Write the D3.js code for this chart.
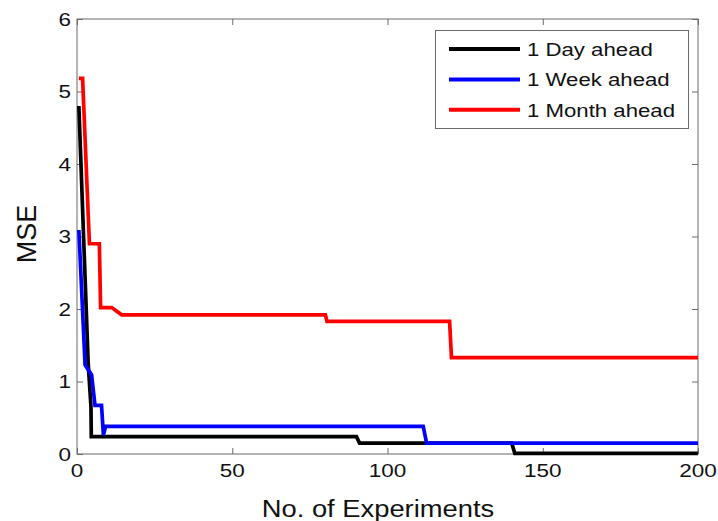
<!DOCTYPE html>
<html>
<head>
<meta charset="utf-8">
<script src="https://cdnjs.cloudflare.com/ajax/libs/d3/7.8.5/d3.min.js"></script>
<style>
  html, body { margin: 0; padding: 0; background: #fff; }
  svg { display: block; }
  text { font-family: "Liberation Sans", Arial, Helvetica, sans-serif; fill: #111; }
</style>
</head>
<body>
<svg id="chart" width="718" height="521"></svg>
<script>
// MSE against number of experiments, for three forecast horizons
const seriesNames = ["1 Day ahead", "1 Week ahead", "1 Month ahead"];
const seriesColors = ["#000000", "#0000ff", "#ff0000"];

const dayX   = [0.6, 3.6, 4.5, 4.6, 90, 91, 140, 141, 200];
const dayY   = [4.8, 1.25, 0.65, 0.24, 0.24, 0.15, 0.15, 0.01, 0.01];

const weekX  = [0.6, 2.6, 4.7, 5.8, 7.9, 8.5, 9.2, 111.5, 112.6, 200];
const weekY  = [3.09, 1.23, 1.09, 0.67, 0.67, 0.26, 0.38, 0.38, 0.15, 0.15];

const monthX = [0.6, 1.8, 4.0, 7.2, 7.6, 11.2, 12.8, 14.4, 80, 80.5, 120, 120.6, 200];
const monthY = [5.18, 5.18, 2.9, 2.9, 2.02, 2.02, 1.97, 1.92, 1.92, 1.83, 1.83, 1.33, 1.33];

const xTicks = [0, 50, 100, 150, 200];
const yTicks = [0, 1, 2, 3, 4, 5, 6];
const xLabel = "No. of Experiments";
const yLabel = "MSE";

const seriesX = [dayX, weekX, monthX];
const seriesY = [dayY, weekY, monthY];

const svg = d3.select("#chart");
const plotL = 77, plotR = 698, plotT = 19, plotB = 454;
const axisColor = "#6b6b6b";

const x = d3.scaleLinear().domain([0, 200]).range([plotL, plotR]);
const y = d3.scaleLinear().domain([0, 6]).range([plotB, plotT]);

// frame
svg.append("rect")
  .attr("x", plotL).attr("y", plotT)
  .attr("width", plotR - plotL).attr("height", plotB - plotT)
  .attr("fill", "none").attr("stroke", axisColor).attr("stroke-width", 1);

// inward ticks on all four sides, labels on bottom and left
const tickLen = 6;
const gBottom = svg.append("g").attr("transform", `translate(0,${plotB})`)
  .call(d3.axisBottom(x).tickValues(xTicks).tickSize(-tickLen).tickFormat(""));
const gTop = svg.append("g").attr("transform", `translate(0,${plotT})`)
  .call(d3.axisTop(x).tickValues(xTicks).tickSize(-tickLen).tickFormat(""));
const gLeft = svg.append("g").attr("transform", `translate(${plotL},0)`)
  .call(d3.axisLeft(y).tickValues(yTicks).tickSize(-tickLen).tickFormat(""));
const gRight = svg.append("g").attr("transform", `translate(${plotR},0)`)
  .call(d3.axisRight(y).tickValues(yTicks).tickSize(-tickLen).tickFormat(""));
[gBottom, gTop, gLeft, gRight].forEach(g => {
  g.select(".domain").remove();
  g.selectAll(".tick line").attr("stroke", axisColor).attr("stroke-width", 1);
});

const tickFont = 18, tickStretch = 1.25;
svg.append("g").selectAll("text").data(xTicks).join("text")
  .attr("transform", d => `translate(${x(d)},${plotB + 23}) scale(${tickStretch},1)`)
  .attr("text-anchor", "middle")
  .style("font-size", tickFont + "px")
  .text(d => d);
svg.append("g").selectAll("text").data(yTicks).join("text")
  .attr("transform", d => `translate(${plotL - 6},${y(d) + 6.5}) scale(${tickStretch},1)`)
  .attr("text-anchor", "end")
  .style("font-size", tickFont + "px")
  .text(d => d);

// axis titles
svg.append("text")
  .attr("transform", `translate(378,517) scale(1.14,1)`)
  .attr("text-anchor", "middle")
  .style("font-size", "24px")
  .text(xLabel);
svg.append("text")
  .attr("transform", `translate(36,234) rotate(-90)`)
  .attr("text-anchor", "middle")
  .style("font-size", "27px")
  .text(yLabel);

// series lines, clipped to the plot box
svg.append("clipPath").attr("id", "plotClip")
  .append("rect").attr("x", plotL).attr("y", plotT - 2)
  .attr("width", plotR - plotL).attr("height", plotB - plotT + 4);

const line = d3.line().x(d => x(d[0])).y(d => y(d[1]));
const plot = svg.append("g").attr("clip-path", "url(#plotClip)");
seriesNames.forEach((name, i) => {
  const pts = seriesX[i].map((v, k) => [v, seriesY[i][k]]);
  plot.append("path")
    .datum(pts)
    .attr("d", line)
    .attr("fill", "none")
    .attr("stroke", seriesColors[i])
    .attr("stroke-width", 3.7)
    .attr("stroke-linejoin", "miter");
});

// legend
const lg = svg.append("g");
lg.append("rect")
  .attr("x", 435.5).attr("y", 30.5).attr("width", 253).attr("height", 98)
  .attr("fill", "#fff").attr("stroke", axisColor).attr("stroke-width", 1);
seriesNames.forEach((name, i) => {
  const ly = 49 + i * 30.4;
  lg.append("line")
    .attr("x1", 449).attr("x2", 520).attr("y1", ly).attr("y2", ly)
    .attr("stroke", seriesColors[i]).attr("stroke-width", 4);
  lg.append("text")
    .attr("transform", `translate(527,${ly + 7}) scale(1.2,1)`)
    .style("font-size", "18.5px")
    .text(name);
});
</script>
</body>
</html>
